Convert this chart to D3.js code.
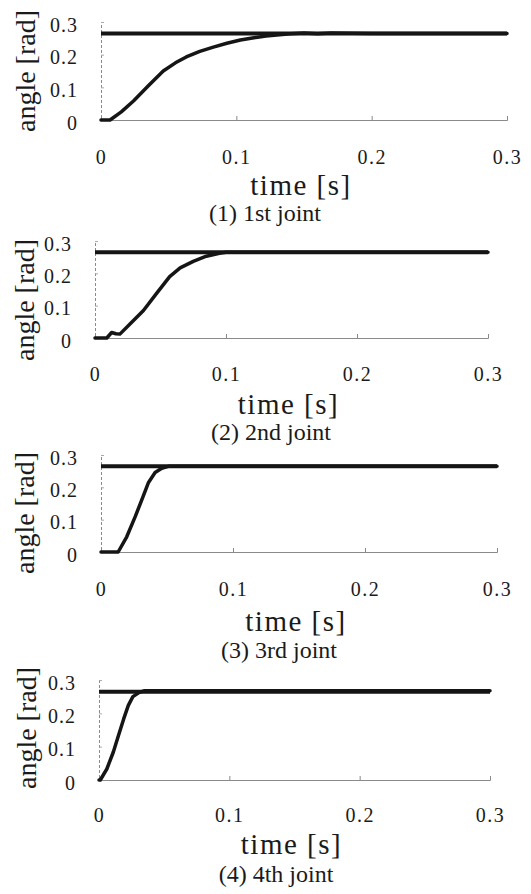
<!DOCTYPE html>
<html>
<head>
<meta charset="utf-8">
<script src="https://cdn.jsdelivr.net/npm/d3@7/dist/d3.min.js"></script>
<style>
  html, body { margin: 0; padding: 0; background: #fff; }
  svg { display: block; }
  text { font-family: "Liberation Serif", "Times New Roman", serif; fill: #1a1a1a; }
</style>
</head>
<body>
<svg id="chart" width="531" height="894"></svg>
<script>
// ---------- data ----------
const timeTicks = [0, 0.1, 0.2, 0.3];
const angleTicks = [0, 0.1, 0.2, 0.3];
const xTickLabels = ["0", "0.1", "0.2", "0.3"];
const yTickLabels = ["0", "0.1", "0.2", "0.3"];
const xAxisTitle = "time [s]";
const yAxisTitle = "angle [rad]";
const panelTitles = ["(1) 1st joint", "(2) 2nd joint", "(3) 3rd joint", "(4) 4th joint"];
const refAngle = [0.265, 0.265, 0.265, 0.265];

const time1  = [0, 0.0067, 0.015, 0.024, 0.035, 0.046, 0.055, 0.063, 0.073, 0.083, 0.093, 0.103, 0.113, 0.122, 0.132, 0.14, 0.15, 0.16, 0.17, 0.2, 0.25, 0.3];
const angle1 = [0, 0, 0.025, 0.058, 0.105, 0.150, 0.175, 0.193, 0.210, 0.223, 0.235, 0.245, 0.252, 0.257, 0.261, 0.264, 0.266, 0.264, 0.266, 0.265, 0.265, 0.265];

const time2  = [0, 0.009, 0.0127, 0.016, 0.019, 0.0267, 0.037, 0.047, 0.057, 0.065, 0.075, 0.085, 0.095, 0.1, 0.2, 0.3];
const angle2 = [0, 0, 0.017, 0.013, 0.012, 0.043, 0.085, 0.138, 0.19, 0.217, 0.237, 0.253, 0.262, 0.265, 0.265, 0.265];

const time3  = [0, 0.013, 0.0195, 0.026, 0.032, 0.036, 0.041, 0.046, 0.051, 0.1, 0.3];
const angle3 = [0, 0, 0.047, 0.11, 0.173, 0.215, 0.246, 0.259, 0.265, 0.265, 0.265];

const time4  = [0, 0.001, 0.006, 0.011, 0.015, 0.019, 0.0225, 0.026, 0.031, 0.035, 0.1, 0.2, 0.3];
const angle4 = [0, 0, 0.033, 0.084, 0.134, 0.184, 0.224, 0.25, 0.263, 0.268, 0.268, 0.268, 0.268];

const series = [[time1, angle1], [time2, angle2], [time3, angle3], [time4, angle4]];

// ---------- layout (positions only) ----------
const layout = [
  { x0: 101, x1: 507, yB: 120, yT: 22,  tickY: 157, titleY: 186, subX: 265, subY: 213, ylabX: 26, ylabY: 71,  tlabR: 78 },
  { x0: 95,  x1: 488, yB: 338, yT: 241, tickY: 374, titleY: 405, subX: 271, subY: 432, ylabX: 25, ylabY: 300, tlabR: 72 },
  { x0: 101, x1: 497, yB: 552, yT: 455, tickY: 589, titleY: 622, subX: 279, subY: 650, ylabX: 25, ylabY: 513, tlabR: 78 },
  { x0: 99,  x1: 490, yB: 780, yT: 680, tickY: 815, titleY: 845, subX: 276, subY: 874, ylabX: 27, ylabY: 728, tlabR: 76 }
];

const svg = d3.select("#chart");
const axisColor = "#8a8a8a";
const lineColor = "#151515";

layout.forEach((L, i) => {
  const x = d3.scaleLinear().domain([0, 0.3]).range([L.x0, L.x1]);
  const y = d3.scaleLinear().domain([0, 0.3]).range([L.yB, L.yT]);
  const g = svg.append("g");

  // x axis
  const xa = g.append("g").attr("transform", `translate(0,${L.yB})`)
    .call(d3.axisBottom(x).tickValues(timeTicks).tickSize(-4).tickPadding(L.tickY - L.yB - 7)
      .tickFormat((d, j) => xTickLabels[j]));
  xa.select(".domain").attr("stroke", axisColor).attr("stroke-width", 1);
  xa.selectAll(".tick line").attr("stroke", axisColor);
  xa.selectAll(".tick text").attr("font-size", 20).attr("letter-spacing", "1.5px")
    .attr("font-family", "Liberation Serif, serif").attr("fill", "#1a1a1a");

  // y axis
  const ya = g.append("g").attr("transform", `translate(${L.x0},0)`)
    .call(d3.axisLeft(y).tickValues(angleTicks).tickSize(-3).tickPadding(L.x0 - L.tlabR)
      .tickFormat((d, j) => yTickLabels[j]));
  ya.select(".domain").attr("stroke", axisColor).attr("stroke-width", 1).attr("stroke-dasharray", "3,2");
  ya.selectAll(".tick line").attr("stroke", "#aaa");
  ya.selectAll(".tick text").attr("font-size", 20).attr("letter-spacing", "1px")
    .attr("font-family", "Liberation Serif, serif").attr("fill", "#1a1a1a").attr("dy", "0.45em");

  // reference line
  const ref = refAngle[i];
  g.append("path")
    .datum(timeTicks.filter((d, j) => j === 0 || j === timeTicks.length - 1))
    .attr("fill", "none").attr("stroke", lineColor).attr("stroke-width", 4)
    .attr("d", d3.line().x(d => x(d)).y(() => y(ref)));

  // response
  const [ts, as] = series[i];
  g.append("path")
    .datum(ts.map((t, j) => [t, as[j]]))
    .attr("fill", "none").attr("stroke", lineColor).attr("stroke-width", 3.5)
    .attr("stroke-linejoin", "round").attr("stroke-linecap", "round")
    .attr("d", d3.line().x(d => x(d[0])).y(d => y(d[1])));

  // y axis title
  g.append("text")
    .attr("transform", `translate(${L.ylabX + 9},${L.ylabY}) rotate(-90)`)
    .attr("text-anchor", "middle").attr("font-size", 28)
    .text(yAxisTitle);

  // x axis title
  g.append("text")
    .attr("x", (L.x0 + L.x1) / 2 - 3).attr("y", L.titleY + 9)
    .attr("text-anchor", "middle").attr("font-size", 29).attr("letter-spacing", "1.5px")
    .text(xAxisTitle);

  // panel subtitle
  g.append("text")
    .attr("x", L.subX).attr("y", L.subY + 8)
    .attr("text-anchor", "middle").attr("font-size", 24)
    .text(panelTitles[i]);
});
</script>
</body>
</html>
